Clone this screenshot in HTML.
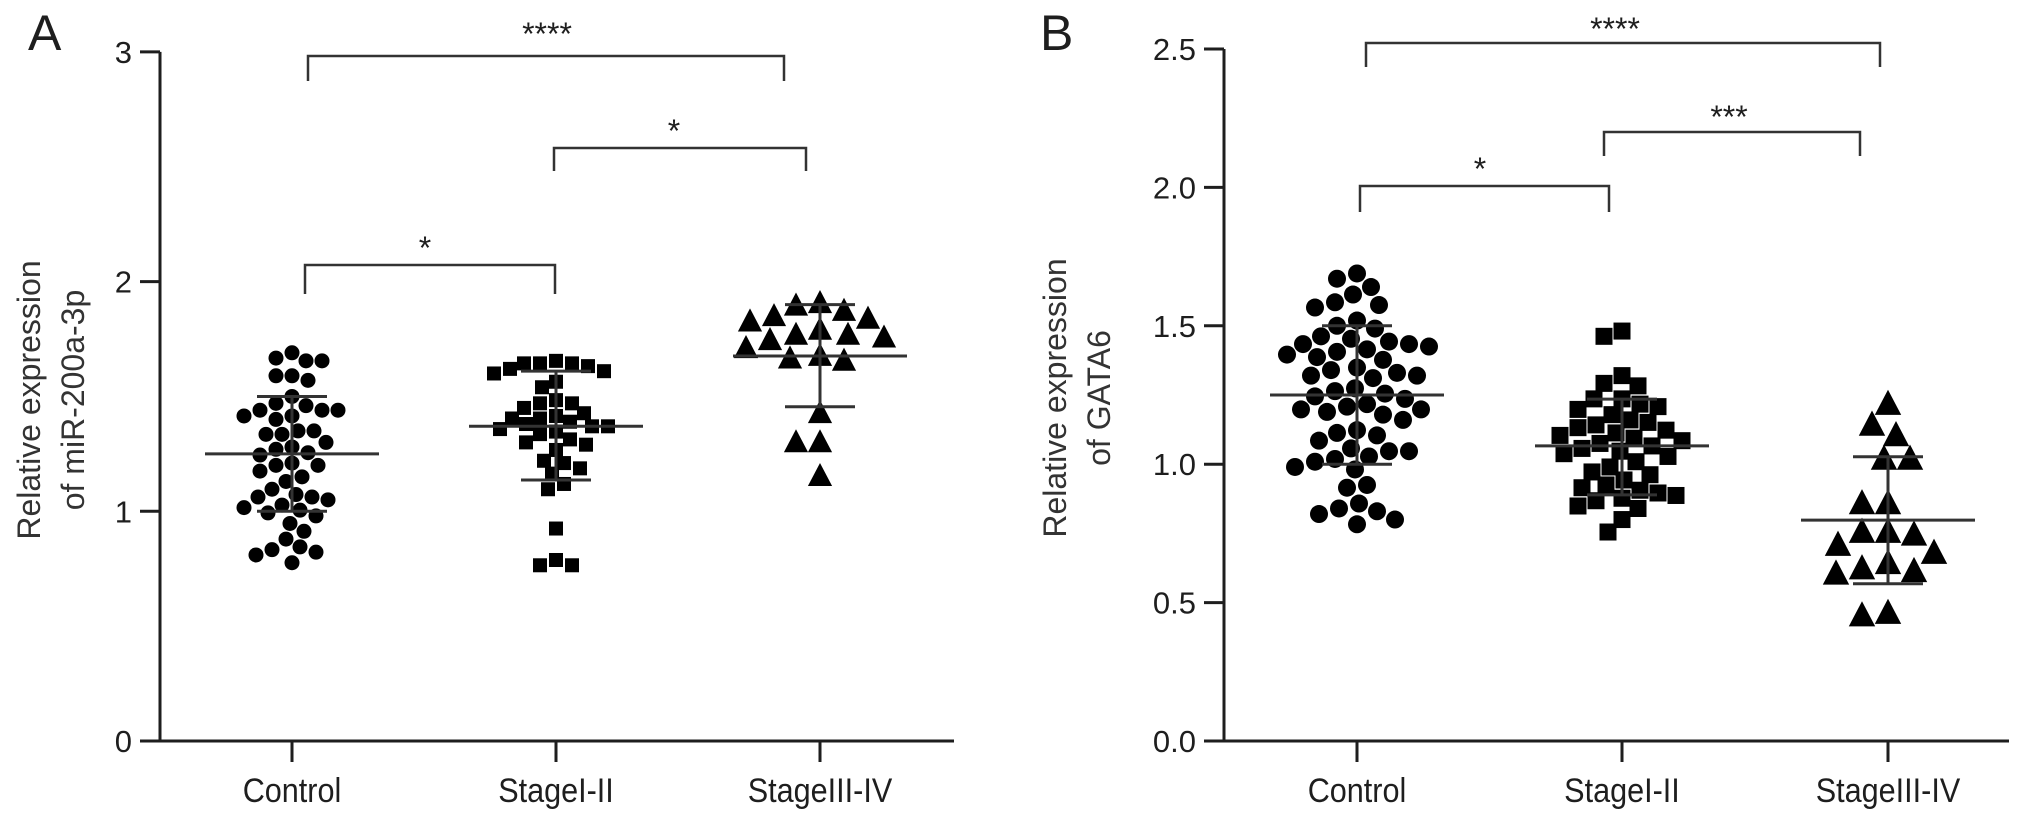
<!DOCTYPE html>
<html><head><meta charset="utf-8"><style>
html,body{margin:0;padding:0;background:#fff;}
svg{display:block;font-family:"Liberation Sans",Arial,sans-serif;}
</style></head><body>
<svg id="chart" width="2032" height="817" viewBox="0 0 2032 817" xmlns="http://www.w3.org/2000/svg"></svg>
<script>
// ---- Data ----
const categories = ["Control", "StageI-II", "StageIII-IV"];
const aTicks = [0, 1, 2, 3];
const aTickLabels = ["0", "1", "2", "3"];
const bTicks = [0, 0.5, 1, 1.5, 2, 2.5];
const bTickLabels = ["0.0", "0.5", "1.0", "1.5", "2.0", "2.5"];

const aControl = [1.69,1.667,1.655,1.655,1.59,1.59,1.57,1.50,1.47,1.46,1.44,1.44,1.44,1.415,1.415,1.40,1.35,1.35,1.335,1.335,1.30,1.28,1.27,1.255,1.245,1.21,1.20,1.20,1.175,1.15,1.13,1.096,1.073,1.062,1.062,1.05,1.027,1.016,1.005,0.993,0.98,0.947,0.913,0.879,0.845,0.833,0.822,0.81,0.776];
const aStage12 = [1.655,1.644,1.644,1.644,1.632,1.62,1.61,1.60,1.564,1.54,1.484,1.47,1.47,1.45,1.427,1.415,1.404,1.404,1.39,1.38,1.37,1.37,1.358,1.347,1.336,1.313,1.30,1.29,1.267,1.22,1.21,1.187,1.164,1.119,1.096,0.925,0.788,0.765,0.765];
const aStage34 = [1.906,1.895,1.872,1.849,1.838,1.826,1.79,1.768,1.768,1.756,1.745,1.71,1.676,1.665,1.655,1.427,1.30,1.30,1.153];
const aMean = [1.25, 1.37, 1.676];
const aSdHigh = [1.50, 1.61, 1.90];
const aSdLow = [1.00, 1.136, 1.455];

const bControl = [1.689,1.67,1.64,1.613,1.585,1.575,1.566,1.519,1.50,1.49,1.462,1.453,1.443,1.434,1.434,1.425,1.415,1.406,1.396,1.387,1.377,1.349,1.34,1.33,1.32,1.32,1.311,1.274,1.264,1.255,1.245,1.236,1.217,1.208,1.198,1.198,1.189,1.179,1.16,1.123,1.113,1.104,1.085,1.057,1.047,1.047,1.028,1.019,1.009,0.99,0.981,0.925,0.915,0.858,0.84,0.83,0.82,0.80,0.783];
const bStage12 = [1.481,1.462,1.32,1.292,1.283,1.236,1.236,1.217,1.208,1.198,1.179,1.16,1.151,1.142,1.132,1.123,1.113,1.104,1.094,1.085,1.075,1.066,1.057,1.047,1.038,1.028,1.009,0.99,0.972,0.962,0.943,0.925,0.915,0.906,0.896,0.887,0.877,0.868,0.849,0.840,0.80,0.755];
const bStage34 = [1.217,1.142,1.104,1.019,1.019,0.858,0.858,0.755,0.755,0.745,0.708,0.679,0.642,0.623,0.613,0.604,0.462,0.453];
const bMean = [1.25, 1.066, 0.798];
const bSdHigh = [1.50, 1.235, 1.027];
const bSdLow = [1.00, 0.889, 0.568];

// ---- Drawing ----
const NS = "http://www.w3.org/2000/svg";
const svg = document.getElementById("chart");
const INK = "#1e1e1e";
function mk(tag, attrs, parent) {
  const e = document.createElementNS(NS, tag);
  for (const k in attrs) e.setAttribute(k, attrs[k]);
  (parent || svg).appendChild(e);
  return e;
}
function beeswarm(vals, yScale, d) {
  const placed = [];
  const out = [];
  vals.forEach(v => {
    const y = yScale(v);
    let chosen = 0;
    for (let k = 0; k < 200; k++) {
      const off = (k % 2 === 0 ? 1 : -1) * Math.ceil(k / 2) * 2;
      let ok = true;
      for (const p of placed) {
        const dx = p.x - off, dy = p.y - y;
        if (dx * dx + dy * dy < d * d) { ok = false; break; }
      }
      if (ok) { chosen = off; break; }
    }
    placed.push({ x: chosen, y: y });
    out.push({ x: chosen, y: y });
  });
  return out;
}

function panel(cfg) {
  const g = mk("g", {});
  
  
  const yS = v => cfg.y0 - (v - cfg.vmin) * cfg.ppu;
  const xS = i => cfg.cx[i];
  const ax = mk("line", { x1: cfg.axX, y1: yS(cfg.ticks[cfg.ticks.length - 1]), x2: cfg.axX, y2: cfg.y0, stroke: INK, "stroke-width": 3 }, g);
  
  
  const xa = mk("line", { x1: cfg.axX, y1: cfg.y0, x2: cfg.axEnd, y2: cfg.y0, stroke: INK, "stroke-width": 3 }, g);
  
  
  cfg.ticks.forEach((t, i) => {
    const tk = mk("line", { x1: cfg.axX - 20, y1: yS(t), x2: cfg.axX, y2: yS(t), stroke: INK, "stroke-width": 3 }, g);
    
    
    const tl = mk("text", { x: cfg.axX - 28, y: yS(t) + 11, "text-anchor": "end", "font-size": 31, fill: INK }, g);
    
    
    tl.textContent = cfg.tickLabels[i];
  });
  categories.forEach((c, i) => {
    const tk = mk("line", { x1: xS(i), y1: cfg.y0, x2: xS(i), y2: cfg.y0 + 21, stroke: INK, "stroke-width": 3 }, g);
    
    
    const tl = mk("text", { x: xS(i), y: 802, "text-anchor": "middle", "font-size": 34, fill: INK, transform: `translate(${xS(i)},0) scale(0.9,1) translate(${-xS(i)},0)` }, g);
    
    
    tl.textContent = c;
  });
  const tt = mk("text", { "font-size": 32, fill: "#333", "text-anchor": "middle", transform: `translate(${cfg.titleX},${cfg.titleY}) rotate(-90)` }, g);
  
  
  const l1 = mk("tspan", { x: 0, y: 0 }, tt); l1.textContent = "Relative expression";
  const l2 = mk("tspan", { x: 0, y: 44 }, tt); l2.textContent = cfg.title2;
  const pl = mk("text", { x: cfg.letterX, y: 50, "font-size": 50, fill: INK }, g);
  
  
  pl.textContent = cfg.letter;
  cfg.series.forEach((vals, i) => {
    const shape = ["circle", "square", "triangle"][i];
    const pts = beeswarm(vals, yS, cfg.d[i]);
    pts.forEach(p => {
      const x = xS(i) + p.x, y = p.y;
      let e;
      if (shape === "circle") e = mk("circle", { cx: x, cy: y, r: cfg.r, fill: "#000" }, g);
      else if (shape === "square") e = mk("rect", { x: x - cfg.sq / 2, y: y - cfg.sq / 2, width: cfg.sq, height: cfg.sq, fill: "#000" }, g);
      else { const h = cfg.tri; e = mk("polygon", { points: `${x},${y - h * 0.6} ${x - h * 0.55},${y + h * 0.45} ${x + h * 0.55},${y + h * 0.45}`, fill: "#000" }, g); }
      
      
    });
    const ml = mk("line", { x1: xS(i) - 87, y1: yS(cfg.mean[i]), x2: xS(i) + 87, y2: yS(cfg.mean[i]), stroke: "#333", "stroke-width": 3 }, g);
    
    
    [cfg.hi[i], cfg.lo[i]].forEach(v => {
      const s = mk("line", { x1: xS(i) - 35, y1: yS(v), x2: xS(i) + 35, y2: yS(v), stroke: "#333", "stroke-width": 3 }, g);
      
      
    });
    const vl = mk("line", { x1: xS(i), y1: yS(cfg.hi[i]), x2: xS(i), y2: yS(cfg.lo[i]), stroke: "#333", "stroke-width": 3 }, g);
    
    
  });
  cfg.brackets.forEach(b => {
    const p = mk("polyline", { points: `${b.x1},${b.leg} ${b.x1},${b.top} ${b.x2},${b.top} ${b.x2},${b.leg}`, fill: "none", stroke: "#333", "stroke-width": 2.5 }, g);
    
    
    const t = mk("text", { x: (b.tx), y: b.ty, "text-anchor": "middle", "font-size": 32, fill: INK }, g);
    
    
    t.textContent = b.label;
  });
}

panel({
  name: "panel-a", letter: "A", letterX: 28, vmin: 0, y0: 741, ppu: 229.7, axX: 160, axEnd: 954,
  cx: [292, 556, 820], ticks: aTicks, tickLabels: aTickLabels, titleX: 40, titleY: 400, title2: "of miR-200a-3p",
  series: [aControl, aStage12, aStage34], mean: aMean, hi: aSdHigh, lo: aSdLow,
  r: 7.5, sq: 14, tri: 22, d: [16, 15, 24],
  brackets: [
    { x1: 308, x2: 784, top: 56, leg: 81, tx: 547, ty: 45, label: "****" },
    { x1: 554, x2: 806, top: 148, leg: 171, tx: 674, ty: 142, label: "*" },
    { x1: 305, x2: 555, top: 265, leg: 294, tx: 425, ty: 259, label: "*" }
  ]
});
panel({
  name: "panel-b", letter: "B", letterX: 1040, vmin: 0, y0: 741, ppu: 276.8, axX: 1224, axEnd: 2009,
  cx: [1357, 1622, 1888], ticks: bTicks, tickLabels: bTickLabels, titleX: 1066, titleY: 398, title2: "of GATA6",
  series: [bControl, bStage12, bStage34], mean: bMean, hi: bSdHigh, lo: bSdLow,
  r: 9, sq: 17, tri: 24, d: [19, 18, 26],
  brackets: [
    { x1: 1366, x2: 1880, top: 43, leg: 67, tx: 1615, ty: 40, label: "****" },
    { x1: 1604, x2: 1860, top: 132, leg: 156, tx: 1729, ty: 128, label: "***" },
    { x1: 1360, x2: 1609, top: 186, leg: 212, tx: 1480, ty: 180, label: "*" }
  ]
});
</script>
</body></html>
